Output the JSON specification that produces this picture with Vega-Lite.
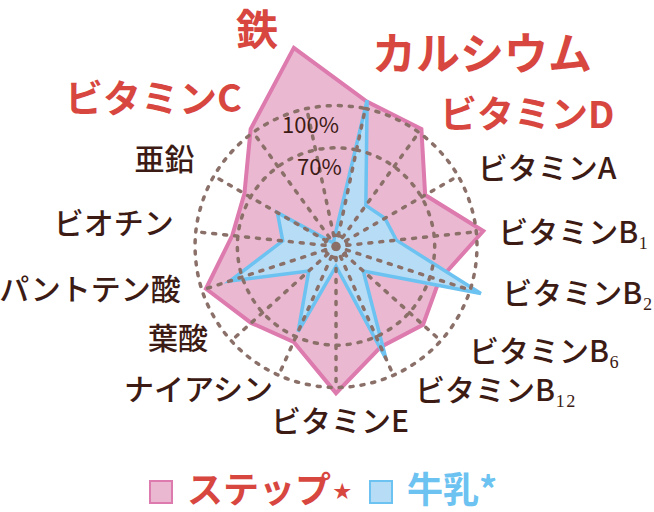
{
  "$schema": "https://vega.github.io/schema/vega-lite/v6.json",
  "width": 654,
  "height": 512,
  "autosize": {"type": "none"},
  "padding": 0,
  "background": "white",
  "datasets": {
    "nut": [
      {"n": "鉄", "i": 0, "ステップ": 144, "牛乳": 6},
      {"n": "カルシウム", "i": 1, "ステップ": 105, "牛乳": 106},
      {"n": "ビタミンD", "i": 2, "ステップ": 103, "牛乳": 36},
      {"n": "ビタミンA", "i": 3, "ステップ": 73, "牛乳": 40},
      {"n": "ビタミンB₁", "i": 4, "ステップ": 105, "牛乳": 43},
      {"n": "ビタミンB₂", "i": 5, "ステップ": 77, "牛乳": 108},
      {"n": "ビタミンB₆", "i": 6, "ステップ": 83, "牛乳": 26},
      {"n": "ビタミンB₁₂", "i": 7, "ステップ": 78, "牛乳": 87},
      {"n": "ビタミンE", "i": 8, "ステップ": 104, "牛乳": 14},
      {"n": "ナイアシン", "i": 9, "ステップ": 74, "牛乳": 66},
      {"n": "葉酸", "i": 10, "ステップ": 81, "牛乳": 26},
      {"n": "パントテン酸", "i": 11, "ステップ": 97, "牛乳": 79},
      {"n": "ビオチン", "i": 12, "ステップ": 74, "牛乳": 38},
      {"n": "亜鉛", "i": 13, "ステップ": 75, "牛乳": 48},
      {"n": "ビタミンC", "i": 14, "ステップ": 103, "牛乳": 3}
    ],
    "rings": [
      {"r": 8, "i": [0, 1, 2, 3, 4, 5, 6, 7, 8, 9, 10, 11, 12, 13, 14]},
      {"r": 70, "i": [0, 1, 2, 3, 4, 5, 6, 7, 8, 9, 10, 11, 12, 13, 14]},
      {"r": 100, "i": [0, 1, 2, 3, 4, 5, 6, 7, 8, 9, 10, 11, 12, 13, 14]}
    ],
    "pct": [
      {"t": "100%", "r": 100},
      {"t": "70%", "r": 70}
    ]
  },
  "encoding": {
    "x": {"field": "x", "type": "quantitative", "scale": {"domain": [-238.3, 225.5], "nice": false, "zero": false}, "axis": null},
    "y": {"field": "y", "type": "quantitative", "scale": {"domain": [-188.3, 174.8], "nice": false, "zero": false}, "axis": null}
  },
  "layer": [
    {
      "data": {"name": "nut"},
      "transform": [
        {"fold": ["ステップ", "牛乳"], "as": ["s", "v"]},
        {"filter": "datum.s === 'ステップ'"},
        {"calculate": "(datum.i * 24 - 12) * PI / 180", "as": "a"},
        {"calculate": "datum.v * sin(datum.a)", "as": "x"},
        {"calculate": "datum.v * cos(datum.a)", "as": "y"}
      ],
      "mark": {"type": "line", "interpolate": "linear-closed", "filled": true, "strokeWidth": 4, "strokeJoin": "miter"},
      "encoding": {
        "order": {"field": "i", "type": "quantitative"},
        "fill": {
          "field": "s", "type": "nominal",
          "scale": {"domain": ["ステップ", "牛乳"], "range": ["#ebb8d2", "#b7dcf5"]},
          "legend": {
            "orient": "none", "legendX": 143, "legendY": 474, "direction": "horizontal", "title": null,
            "symbolType": "square", "symbolSize": 484, "symbolStrokeWidth": 2, "padding": 0,
            "labelFont": "Noto Sans CJK JP", "labelFontSize": 36, "labelFontWeight": "bold",
            "labelOffset": 8, "columnPadding": 8, "labelLimit": 300,
            "labelExpr": "datum.value === '牛乳' ? '牛乳*' : 'ステップ⋆'",
            "encode": {"labels": {"update": {"fill": {"signal": "datum.value === '牛乳' ? '#6cc2f0' : '#d8473f'"}}}}
          }
        },
        "stroke": {
          "field": "s", "type": "nominal",
          "scale": {"domain": ["ステップ", "牛乳"], "range": ["#dd7aae", "#6cc2f0"]},
          "legend": {
            "orient": "none", "legendX": 143, "legendY": 474, "direction": "horizontal", "title": null,
            "symbolType": "square", "symbolSize": 484, "symbolStrokeWidth": 2, "padding": 0,
            "labelFont": "Noto Sans CJK JP", "labelFontSize": 36, "labelFontWeight": "bold",
            "labelOffset": 8, "columnPadding": 8, "labelLimit": 300,
            "labelExpr": "datum.value === '牛乳' ? '牛乳*' : 'ステップ⋆'",
            "encode": {"labels": {"update": {"fill": {"signal": "datum.value === '牛乳' ? '#6cc2f0' : '#d8473f'"}}}}
          }
        }
      }
    },
    {
      "data": {"name": "nut"},
      "transform": [
        {"fold": ["ステップ", "牛乳"], "as": ["s", "v"]},
        {"filter": "datum.s === '牛乳'"},
        {"calculate": "(datum.i * 24 - 12) * PI / 180", "as": "a"},
        {"calculate": "datum.v * sin(datum.a)", "as": "x"},
        {"calculate": "datum.v * cos(datum.a)", "as": "y"}
      ],
      "mark": {"type": "line", "interpolate": "linear-closed", "filled": true, "strokeWidth": 3.5, "strokeJoin": "miter"},
      "encoding": {
        "order": {"field": "i", "type": "quantitative"},
        "fill": {"field": "s", "type": "nominal", "scale": {"domain": ["ステップ", "牛乳"], "range": ["#ebb8d2", "#b7dcf5"]}},
        "stroke": {"field": "s", "type": "nominal", "scale": {"domain": ["ステップ", "牛乳"], "range": ["#dd7aae", "#6cc2f0"]}}
      }
    },
    {
      "data": {"name": "rings"},
      "transform": [
        {"flatten": ["i"]},
        {"calculate": "(datum.i * 24 - 12) * PI / 180", "as": "a"},
        {"calculate": "datum.r * sin(datum.a)", "as": "x"},
        {"calculate": "datum.r * cos(datum.a)", "as": "y"}
      ],
      "mark": {"type": "line", "interpolate": "cardinal-closed", "color": "#8a7068", "strokeWidth": 3.5, "strokeDash": [3, 8], "strokeCap": "round"},
      "encoding": {
        "detail": {"field": "r", "type": "nominal"},
        "order": {"field": "i", "type": "quantitative"}
      }
    },
    {
      "data": {"name": "nut"},
      "transform": [
        {"calculate": "(datum.i * 24 - 12) * PI / 180", "as": "a"},
        {"calculate": "0", "as": "x"},
        {"calculate": "0", "as": "y"},
        {"calculate": "100 * sin(datum.a)", "as": "x2"},
        {"calculate": "100 * cos(datum.a)", "as": "y2"}
      ],
      "mark": {"type": "rule", "color": "#8a7068", "strokeWidth": 3.5, "strokeDash": [3, 8], "strokeCap": "round"},
      "encoding": {
        "x2": {"field": "x2"},
        "y2": {"field": "y2"}
      }
    },
    {
      "data": {"name": "pct"},
      "transform": [
        {"calculate": "-12 * PI / 180", "as": "a"},
        {"calculate": "(datum.r - 13) * sin(datum.a)", "as": "x"},
        {"calculate": "(datum.r - 13) * cos(datum.a)", "as": "y"}
      ],
      "mark": {"type": "text", "font": "Noto Sans CJK JP", "fontSize": 22, "color": "#3d1b15", "align": "center", "baseline": "middle"},
      "encoding": {"text": {"field": "t"}}
    },
    {
      "data": {"name": "nut"},
      "transform": [
        {"filter": "datum.i >= 3 && datum.i <= 4"},
        {"calculate": "(datum.i * 24 - 12) * PI / 180", "as": "a"},
        {"calculate": "113.5 * sin(datum.a)", "as": "x"},
        {"calculate": "113.5 * cos(datum.a)", "as": "y"}
      ],
      "mark": {"type": "text", "font": "Noto Sans CJK JP", "fontSize": 30, "fontWeight": 500, "color": "#3d1b15", "align": "left", "baseline": "middle", "dx": 3, "dy": 4},
      "encoding": {"text": {"field": "n"}}
    },
    {
      "data": {"name": "nut"},
      "transform": [
        {"filter": "datum.i >= 5 && datum.i <= 7"},
        {"calculate": "(datum.i * 24 - 12) * PI / 180", "as": "a"},
        {"calculate": "113.5 * sin(datum.a)", "as": "x"},
        {"calculate": "113.5 * cos(datum.a)", "as": "y"}
      ],
      "mark": {"type": "text", "font": "Noto Sans CJK JP", "fontSize": 30, "fontWeight": 500, "color": "#3d1b15", "align": "left", "baseline": "middle", "dx": 14, "dy": -1},
      "encoding": {"text": {"field": "n"}}
    },
    {
      "data": {"name": "nut"},
      "transform": [
        {"filter": "datum.i === 8"},
        {"calculate": "(datum.i * 24 - 12) * PI / 180", "as": "a"},
        {"calculate": "113.5 * sin(datum.a)", "as": "x"},
        {"calculate": "113.5 * cos(datum.a)", "as": "y"}
      ],
      "mark": {"type": "text", "font": "Noto Sans CJK JP", "fontSize": 30, "fontWeight": 500, "color": "#3d1b15", "align": "center", "baseline": "middle", "dx": 4, "dy": 16},
      "encoding": {"text": {"field": "n"}}
    },
    {
      "data": {"name": "nut"},
      "transform": [
        {"filter": "datum.i === 9"},
        {"calculate": "(datum.i * 24 - 12) * PI / 180", "as": "a"},
        {"calculate": "113.5 * sin(datum.a)", "as": "x"},
        {"calculate": "113.5 * cos(datum.a)", "as": "y"}
      ],
      "mark": {"type": "text", "font": "Noto Sans CJK JP", "fontSize": 30, "fontWeight": 500, "color": "#3d1b15", "align": "right", "baseline": "middle", "dx": 2, "dy": -2},
      "encoding": {"text": {"field": "n"}}
    },
    {
      "data": {"name": "nut"},
      "transform": [
        {"filter": "datum.i === 10"},
        {"calculate": "(datum.i * 24 - 12) * PI / 180", "as": "a"},
        {"calculate": "113.5 * sin(datum.a)", "as": "x"},
        {"calculate": "113.5 * cos(datum.a)", "as": "y"}
      ],
      "mark": {"type": "text", "font": "Noto Sans CJK JP", "fontSize": 30, "fontWeight": 500, "color": "#3d1b15", "align": "right", "baseline": "middle", "dx": -9, "dy": -14},
      "encoding": {"text": {"field": "n"}}
    },
    {
      "data": {"name": "nut"},
      "transform": [
        {"filter": "datum.i >= 11 && datum.i <= 13"},
        {"calculate": "(datum.i * 24 - 12) * PI / 180", "as": "a"},
        {"calculate": "113.5 * sin(datum.a)", "as": "x"},
        {"calculate": "113.5 * cos(datum.a)", "as": "y"}
      ],
      "mark": {"type": "text", "font": "Noto Sans CJK JP", "fontSize": 30, "fontWeight": 500, "color": "#3d1b15", "align": "right", "baseline": "middle", "dx": -3, "dy": -5},
      "encoding": {"text": {"field": "n"}}
    },
    {
      "data": {"name": "nut"},
      "transform": [
        {"filter": "datum.i === 2"},
        {"calculate": "(datum.i * 24 - 12) * PI / 180", "as": "a"},
        {"calculate": "113.5 * sin(datum.a)", "as": "x"},
        {"calculate": "113.5 * cos(datum.a)", "as": "y"}
      ],
      "mark": {"type": "text", "font": "Noto Sans CJK JP", "fontSize": 37, "fontWeight": "bold", "color": "#d8473f", "align": "left", "baseline": "middle", "dx": 10, "dy": 0},
      "encoding": {"text": {"field": "n"}}
    },
    {
      "data": {"name": "nut"},
      "transform": [
        {"filter": "datum.i === 14"},
        {"calculate": "(datum.i * 24 - 12) * PI / 180", "as": "a"},
        {"calculate": "113.5 * sin(datum.a)", "as": "x"},
        {"calculate": "113.5 * cos(datum.a)", "as": "y"}
      ],
      "mark": {"type": "text", "font": "Noto Sans CJK JP", "fontSize": 38, "fontWeight": "bold", "color": "#d8473f", "align": "right", "baseline": "middle", "dx": 0, "dy": -16},
      "encoding": {"text": {"field": "n"}}
    },
    {
      "data": {"name": "nut"},
      "transform": [
        {"filter": "datum.i === 0"},
        {"calculate": "(datum.i * 24 - 12) * PI / 180", "as": "a"},
        {"calculate": "160 * sin(datum.a)", "as": "x"},
        {"calculate": "160 * cos(datum.a)", "as": "y"}
      ],
      "mark": {"type": "text", "font": "Noto Sans CJK JP", "fontSize": 42, "fontWeight": "bold", "color": "#d8473f", "align": "center", "baseline": "middle", "dx": -32, "dy": 6},
      "encoding": {"text": {"field": "n"}}
    },
    {
      "data": {"name": "nut"},
      "transform": [
        {"filter": "datum.i === 1"},
        {"calculate": "(datum.i * 24 - 12) * PI / 180", "as": "a"},
        {"calculate": "140 * sin(datum.a)", "as": "x"},
        {"calculate": "140 * cos(datum.a)", "as": "y"}
      ],
      "mark": {"type": "text", "font": "Noto Sans CJK JP", "fontSize": 44, "fontWeight": "bold", "color": "#d8473f", "align": "left", "baseline": "middle", "dx": -5, "dy": 4},
      "encoding": {"text": {"field": "n"}}
    }
  ],
  "config": {"view": {"stroke": null}, "font": "Noto Sans CJK JP"}
}
